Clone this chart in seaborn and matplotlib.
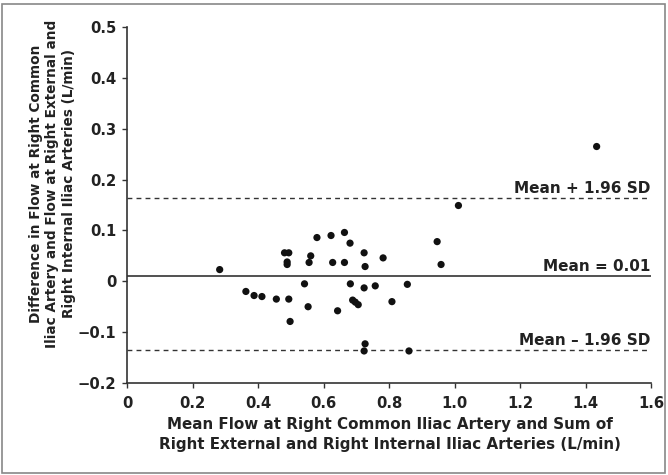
import matplotlib
matplotlib.use("Agg")
import matplotlib.pyplot as plt
import seaborn as sns
import pandas as pd
from matplotlib.patches import Rectangle

mean_flow = [0.283, 1.012, 0.580, 0.623, 0.664, 0.681, 0.481, 0.494, 0.489, 0.489,
             0.561, 0.556, 0.628, 0.664, 0.724, 0.727, 0.782, 0.947, 0.959,
             0.542, 0.682, 0.724, 0.758, 0.856, 0.363, 0.388, 0.412, 0.456, 0.494,
             0.553, 0.643, 0.689, 0.697, 0.706, 0.809, 0.498, 0.727, 0.724, 0.861,
             1.434]
diff_flow = [0.023, 0.149, 0.086, 0.090, 0.096, 0.075, 0.056, 0.056, 0.038, 0.033,
             0.050, 0.037, 0.037, 0.037, 0.056, 0.029, 0.046, 0.078, 0.033,
             -0.005, -0.005, -0.013, -0.009, -0.006, -0.020, -0.028, -0.030, -0.035, -0.035,
             -0.050, -0.058, -0.037, -0.041, -0.046, -0.040, -0.079, -0.123, -0.137, -0.137,
             0.265]

mean_diff = 0.01
upper_loa = 0.164
lower_loa = -0.135

x_ticks = [0, 0.2, 0.4, 0.6, 0.8, 1.0, 1.2, 1.4, 1.6]
x_tick_labels = ["0", "0.2", "0.4", "0.6", "0.8", "1.0", "1.2", "1.4", "1.6"]
y_ticks = [-0.2, -0.1, 0, 0.1, 0.2, 0.3, 0.4, 0.5]
y_tick_labels = ["\u22120.2", "\u22120.1", "0", "0.1", "0.2", "0.3", "0.4", "0.5"]

sns.set_style("white")
plt.rcParams['font.family'] = ['DejaVu Sans']
plt.rcParams['font.weight'] = 'bold'

df = pd.DataFrame({"mean": mean_flow, "diff": diff_flow})

fig = plt.figure(figsize=(6.68, 4.75), dpi=100)
ax = fig.add_axes([127/668, 1 - 383/475, (651-127)/668, (383-27)/475])

sns.scatterplot(data=df, x="mean", y="diff", ax=ax, color="#111111", s=27,
                edgecolor="none", zorder=3, clip_on=False)

lc = "#333333"
tc = "#222222"
ax.axhline(mean_diff, color=lc, lw=1.2, zorder=2)
ax.axhline(upper_loa, color=lc, lw=1.0, ls=(0, (3.5, 3)), zorder=2)
ax.axhline(lower_loa, color=lc, lw=1.0, ls=(0, (3.5, 3)), zorder=2)

fs_ann = 11
off = 0.0095
ax.text(1.599, upper_loa + off, "Mean + 1.96 SD", ha="right", va="baseline",
        fontsize=fs_ann, fontweight="bold", color=tc)
ax.text(1.599, mean_diff + off, "Mean = 0.01", ha="right", va="baseline",
        fontsize=fs_ann, fontweight="bold", color=tc)
ax.text(1.599, lower_loa + off, "Mean \u2013 1.96 SD", ha="right", va="baseline",
        fontsize=fs_ann, fontweight="bold", color=tc)

fs_tick = 10.6
ax.set_xlim(0, 1.6)
ax.set_ylim(-0.2, 0.5)
ax.set_xticks(x_ticks)
ax.set_xticklabels(x_tick_labels, fontsize=fs_tick, fontweight="bold", color=tc)
ax.set_yticks(y_ticks)
ax.set_yticklabels(y_tick_labels, fontsize=fs_tick, fontweight="bold", color=tc)
ax.tick_params(axis="both", direction="out", length=3.6, width=1, color=lc,
               left=True, bottom=True)
ax.tick_params(axis="y", pad=4)
ax.tick_params(axis="x", pad=6)

for side in ["top", "right"]:
    ax.spines[side].set_visible(False)
for side in ["left", "bottom"]:
    ax.spines[side].set_color(lc)
    ax.spines[side].set_linewidth(1.2)

ax.set_xlabel("Mean Flow at Right Common Iliac Artery and Sum of\n"
              "Right External and Right Internal Iliac Arteries (L/min)",
              fontsize=10.9, fontweight="bold", color=tc, linespacing=1.42)
ax.xaxis.set_label_coords(0.502, -0.095)
ax.set_ylabel("Difference in Flow at Right Common\n"
              "Iliac Artery and Flow at Right External and\n"
              "Right Internal Iliac Arteries (L/min)",
              fontsize=9.8, fontweight="bold", color=tc, linespacing=1.25)
ax.yaxis.set_label_coords(-0.097, 0.559)

fig.patches.append(Rectangle((2/668, 2/475), 1 - 5/668, 1 - 6/475,
                             transform=fig.transFigure, fill=False,
                             edgecolor="#888888", lw=1.2))

fig.savefig("out.png", dpi=100)
